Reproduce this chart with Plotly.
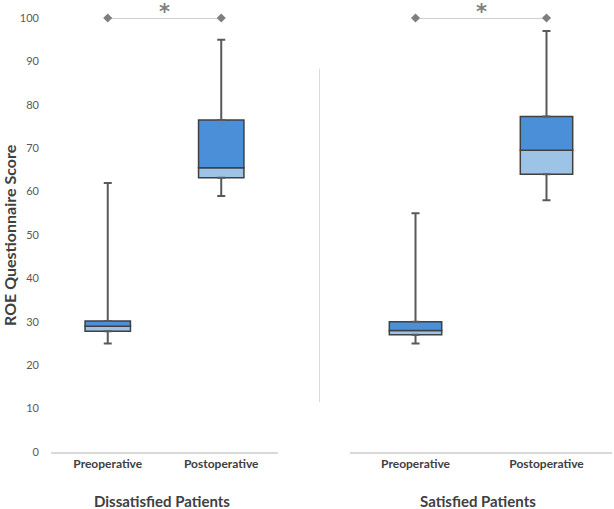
import plotly.graph_objects as go

categories = ["Preoperative", "Postoperative"]
groups = ["Dissatisfied Patients", "Satisfied Patients"]

# five-number summaries per group: [Preoperative, Postoperative]
dis_min = [25, 59]
dis_q1 = [27.8, 63.2]
dis_med = [29, 65.5]
dis_q3 = [30.2, 76.5]
dis_max = [62, 95]

sat_min = [25, 58]
sat_q1 = [27, 64]
sat_med = [28, 69.5]
sat_q3 = [30, 77.3]
sat_max = [55, 97]

sig_level = [100, 100]
y_ticks = [0, 10, 20, 30, 40, 50, 60, 70, 80, 90, 100]

DARK = "#4a8fd8"
LIGHT = "#9dc3e6"
EDGE = "#404040"
WHISK = "#595959"
FONT = "Lato, Liberation Sans, sans-serif"

fig = go.Figure()

data = [
    ("x", dis_min, dis_q1, dis_med, dis_q3, dis_max),
    ("x2", sat_min, sat_q1, sat_med, sat_q3, sat_max),
]
for xa, mn, q1, md, q3, mx in data:
    # lower whisker
    fig.add_trace(go.Scatter(
        x=categories, y=q1, xaxis=xa, yaxis="y", mode="markers",
        marker=dict(size=1, color="rgba(0,0,0,0)"),
        error_y=dict(type="data", symmetric=False,
                     array=[0, 0], arrayminus=[a - b for a, b in zip(q1, mn)],
                     color=WHISK, thickness=2, width=4),
        showlegend=False, hoverinfo="skip"))
    # upper whisker
    fig.add_trace(go.Scatter(
        x=categories, y=q3, xaxis=xa, yaxis="y", mode="markers",
        marker=dict(size=1, color="rgba(0,0,0,0)"),
        error_y=dict(type="data", symmetric=False,
                     array=[a - b for a, b in zip(mx, q3)], arrayminus=[0, 0],
                     color=WHISK, thickness=2, width=4),
        showlegend=False, hoverinfo="skip"))
    # lower box (Q1 -> median)
    fig.add_trace(go.Bar(
        x=categories, y=[a - b for a, b in zip(md, q1)], base=q1,
        xaxis=xa, yaxis="y", marker=dict(color=LIGHT, line=dict(color=EDGE, width=1.5)),
        showlegend=False))
    # upper box (median -> Q3)
    fig.add_trace(go.Bar(
        x=categories, y=[a - b for a, b in zip(q3, md)], base=md,
        xaxis=xa, yaxis="y", marker=dict(color=DARK, line=dict(color=EDGE, width=1.5)),
        showlegend=False))
    # significance bracket
    fig.add_trace(go.Scatter(
        x=categories, y=sig_level, xaxis=xa, yaxis="y", mode="lines+markers",
        line=dict(color="#bfbfbf", width=1.5),
        marker=dict(symbol="diamond", size=7, color="#7f7f7f"),
        cliponaxis=False, showlegend=False, hoverinfo="skip"))

xtickfont = dict(family=FONT, size=12, color="#404040", weight="bold")
fig.update_layout(
    width=614, height=509,
    margin=dict(l=51, r=2, t=18, b=57),
    paper_bgcolor="white", plot_bgcolor="white",
    barmode="overlay", bargap=0.6,
    font=dict(family=FONT, color="#404040"),
    xaxis=dict(domain=[0, 0.4046], type="category", range=[-0.5, 1.5],
               showline=True, linecolor="#d9d9d9", linewidth=1.5, automargin=False,
               showgrid=False, zeroline=False, ticks="", tickfont=xtickfont),
    xaxis2=dict(domain=[0.533, 1], type="category", range=[-0.5, 1.5], anchor="y",
                showline=True, linecolor="#d9d9d9", linewidth=1.5, automargin=False,
                showgrid=False, zeroline=False, ticks="", tickfont=xtickfont),
    yaxis=dict(range=[0, 100], tickvals=y_ticks, showgrid=False, zeroline=False,
               showline=False, ticks="", ticklabelstandoff=11, automargin=False,
               tickfont=dict(family=FONT, size=11, color="#595959")),
)

# y-axis title
fig.add_annotation(text="ROE Questionnaire Score", xref="paper", yref="paper",
                   x=0, y=0.5, xanchor="center", yanchor="middle", xshift=-42,
                   textangle=-90, showarrow=False,
                   font=dict(family=FONT, size=16, color="#404040", weight="bold"))

for xa, name in [("x", groups[0]), ("x2", groups[1])]:
    # group title
    fig.add_annotation(text=name, xref=xa + " domain", yref="paper", x=0.49, y=-0.114,
                       yanchor="middle", showarrow=False,
                       font=dict(family=FONT, size=15, color="#404040", weight="bold"))
    # significance asterisk
    fig.add_annotation(text="*", xref=xa + " domain", yref="paper", x=0.5, y=1.0,
                       yanchor="bottom", showarrow=False, yshift=-8,
                       font=dict(family="DejaVu Sans, sans-serif", size=21,
                                 color="#7f7f7f", weight="bold"))

# separator line between groups
fig.add_shape(type="line", xref="paper", yref="y", x0=0.4786, x1=0.4786, y0=11.5, y1=88.3,
              line=dict(color="#d9d9d9", width=1))

fig.write_html("out.html", config={"displayModeBar": False},
               post_script="document.body.style.margin='0';")
